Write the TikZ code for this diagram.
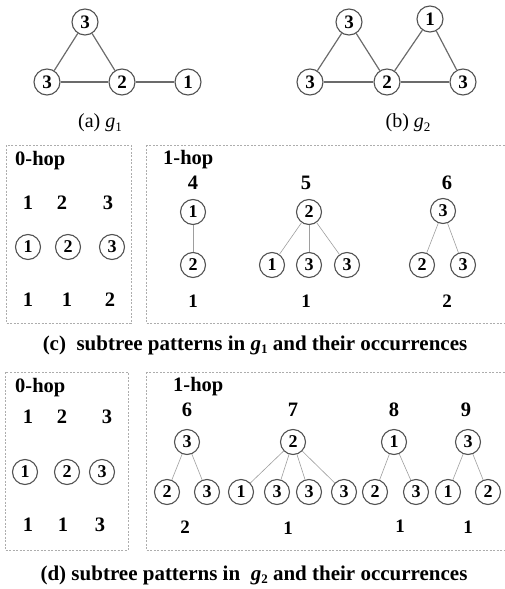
\documentclass[tikz,border=0pt]{standalone}
\usepackage{fontspec}
\setmainfont{Liberation Serif}
\newcommand{\gsub}[1]{{\itshape g}\raisebox{-0.35ex}{\fontsize{13}{13}\selectfont #1}}
\begin{document}
\begin{tikzpicture}[x=1pt,y=-1pt,
 vtx/.style={circle, draw=black!68, line width=1.1pt, minimum size=26pt, inner sep=0pt, fill=white, font=\fontsize{19}{19}\selectfont\bfseries},
 tvtx/.style={vtx, minimum size=25pt, font=\fontsize{18}{18}\selectfont\bfseries},
 gedge/.style={draw=black!58, line width=1.2pt},
 tedge/.style={draw=black!38, line width=0.6pt},
 panel/.style={draw=black!32, dash pattern=on 2pt off 1.5pt, line width=0.7pt},
 lbl/.style={font=\fontsize{20.5}{20.5}\selectfont\bfseries, inner sep=0pt},
 cnt/.style={font=\fontsize{19}{19}\selectfont\bfseries, inner sep=0pt},
 subcap/.style={font=\fontsize{20}{20}\selectfont, inner sep=0pt},
 bigcap/.style={font=\fontsize{21}{21}\selectfont\bfseries, inner sep=0pt}]
\useasboundingbox (0,0) rectangle (505,589);
\clip (0,0) rectangle (505,589);
% (a) g1
\node[vtx] (a3t) at (85,22) {3};
\node[vtx] (a3l) at (47,82) {3};
\node[vtx] (a2) at (122,82) {2};
\node[vtx] (a1) at (188,82) {1};
\draw[gedge] (a3t) -- (a3l);
\draw[gedge] (a3t) -- (a2);
\draw[gedge] (a3l) -- (a2);
\draw[gedge] (a2) -- (a1);
\node[subcap] (capa) at (100,123) {(a) \gsub{1}};
% (b) g2
\node[vtx] (b3t) at (349,22) {3};
\node[vtx] (b1) at (430,19) {1};
\node[vtx] (b3l) at (310,82) {3};
\node[vtx] (b2) at (387,82) {2};
\node[vtx] (b3r) at (463,82) {3};
\draw[gedge] (b3t) -- (b3l);
\draw[gedge] (b3t) -- (b2);
\draw[gedge] (b3l) -- (b2);
\draw[gedge] (b2) -- (b1);
\draw[gedge] (b1) -- (b3r);
\draw[gedge] (b2) -- (b3r);
\node[subcap] (capb) at (408,123) {(b) \gsub{2}};
% (c) panels
\draw[panel] (6,145) rectangle (131,323);
\draw[panel] (146,145) rectangle (520,323);
\node[lbl, anchor=west] (c0h) at (15,161) {0-hop};
\node[lbl] (c0n1) at (28,203) {1};
\node[lbl] (c0n2) at (62,203) {2};
\node[lbl] (c0n3) at (108,203) {3};
\node[tvtx] (c0v1) at (28,247) {1};
\node[tvtx] (c0v2) at (68,247) {2};
\node[tvtx] (c0v3) at (112,247) {3};
\node[lbl] (c0c1) at (28,300) {1};
\node[lbl] (c0c2) at (67,300) {1};
\node[lbl] (c0c3) at (110,300) {2};
\node[lbl, anchor=west] (c1h) at (163,160) {1-hop};
\node[lbl] (c4) at (193,183) {4};
\node[lbl] (c5) at (306,183) {5};
\node[lbl] (c6) at (447,183) {6};
\node[tvtx] (c4r) at (193,212) {1};
\node[tvtx] (c4a) at (193,265) {2};
\draw[tedge] (c4r) -- (c4a);
\node[tvtx] (c5r) at (309,212) {2};
\node[tvtx] (c5a) at (272,265) {1};
\node[tvtx] (c5b) at (309,265) {3};
\node[tvtx] (c5c) at (347,265) {3};
\draw[tedge] (c5r) -- (c5a);
\draw[tedge] (c5r) -- (c5b);
\draw[tedge] (c5r) -- (c5c);
\node[tvtx] (c6r) at (443,211) {3};
\node[tvtx] (c6a) at (422,265) {2};
\node[tvtx] (c6b) at (463,265) {3};
\draw[tedge] (c6r) -- (c6a);
\draw[tedge] (c6r) -- (c6b);
\node[cnt] (c4c) at (193,301) {1};
\node[cnt] (c5c1) at (306,301) {1};
\node[cnt] (c6c) at (447,301) {2};
\node[bigcap] (capc) at (255,345) {(c)\ \ subtree patterns in \gsub{1} and their occurrences};
% (d) panels
\draw[panel] (5,372) rectangle (128,550);
\draw[panel] (146,372) rectangle (520,550);
\node[lbl, anchor=west] (d0h) at (15,388) {0-hop};
\node[lbl] (d0n1) at (28,417) {1};
\node[lbl] (d0n2) at (62,417) {2};
\node[lbl] (d0n3) at (107,417) {3};
\node[tvtx] (d0v1) at (25,472) {1};
\node[tvtx] (d0v2) at (67,472) {2};
\node[tvtx] (d0v3) at (102,472) {3};
\node[lbl] (d0c1) at (28,525) {1};
\node[lbl] (d0c2) at (63,525) {1};
\node[lbl] (d0c3) at (100,525) {3};
\node[lbl, anchor=west] (d1h) at (173,387) {1-hop};
\node[lbl] (d6) at (187,410) {6};
\node[lbl] (d7) at (293,410) {7};
\node[lbl] (d8) at (394,410) {8};
\node[lbl] (d9) at (466,410) {9};
\node[tvtx] (d6r) at (187,442) {3};
\node[tvtx] (d6a) at (167,492) {2};
\node[tvtx] (d6b) at (207,492) {3};
\draw[tedge] (d6r) -- (d6a);
\draw[tedge] (d6r) -- (d6b);
\node[tvtx] (d7r) at (293,442) {2};
\node[tvtx] (d7a) at (241,492) {1};
\node[tvtx] (d7b) at (277,492) {3};
\node[tvtx] (d7c) at (309,492) {3};
\node[tvtx] (d7d) at (344,492) {3};
\draw[tedge] (d7r) -- (d7a);
\draw[tedge] (d7r) -- (d7b);
\draw[tedge] (d7r) -- (d7c);
\draw[tedge] (d7r) -- (d7d);
\node[tvtx] (d8r) at (394,442) {1};
\node[tvtx] (d8a) at (375,492) {2};
\node[tvtx] (d8b) at (416,492) {3};
\draw[tedge] (d8r) -- (d8a);
\draw[tedge] (d8r) -- (d8b);
\node[tvtx] (d9r) at (468,442) {3};
\node[tvtx] (d9a) at (448,492) {1};
\node[tvtx] (d9b) at (488,492) {2};
\draw[tedge] (d9r) -- (d9a);
\draw[tedge] (d9r) -- (d9b);
\node[cnt] (d6c) at (185,527) {2};
\node[cnt] (d7c1) at (288,528) {1};
\node[cnt] (d8c) at (400,526) {1};
\node[cnt] (d9c) at (468,527) {1};
\node[bigcap] (capd) at (254,575) {(d) subtree patterns in\ \ \gsub{2} and their occurrences};
\end{tikzpicture}
\end{document}
